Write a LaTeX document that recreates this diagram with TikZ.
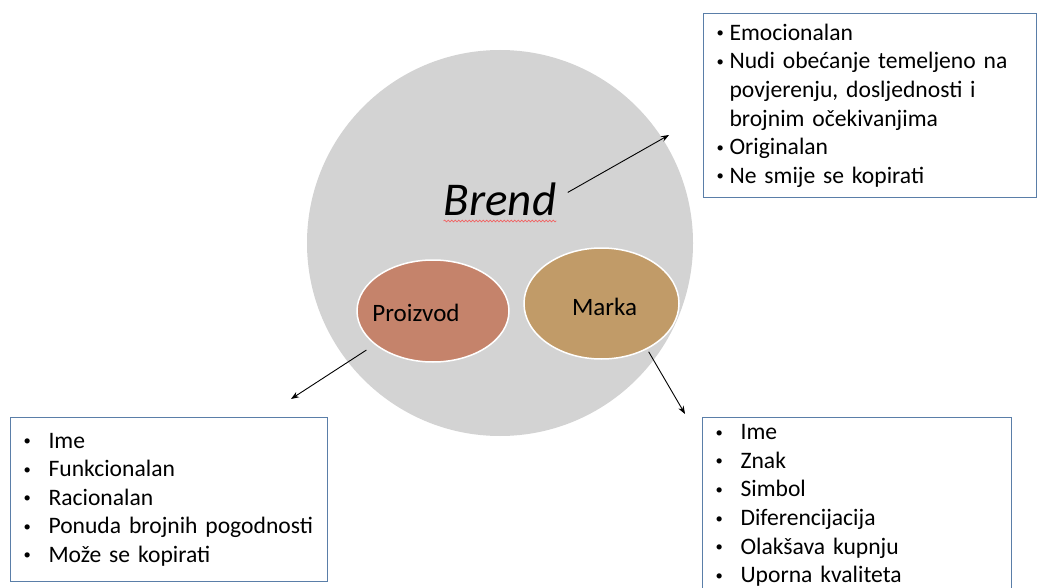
\documentclass[tikz,border=0pt]{standalone}
\usepackage{graphicx}
\usepackage{fontspec}
\setmainfont{Carlito}
\usetikzlibrary{arrows.meta,decorations.pathmorphing,shapes.geometric}
\definecolor{circgray}{HTML}{D3D3D3}
\definecolor{prodcol}{HTML}{C5836B}
\definecolor{markacol}{HTML}{C19B68}
\definecolor{boxblue}{HTML}{5A7EA8}
\definecolor{spellred}{HTML}{F06464}
\newcommand{\bulx}[1]{\makebox[#1][l]{\hspace*{1pt}\raisebox{2.5pt}{\scalebox{0.62}{\textbullet}}}}
\newcommand{\itm}[2]{\mbox{\bulx{#1}#2}}
\newcommand{\cnt}[2]{\mbox{\hspace*{#1}#2}}
\begin{document}
\begin{tikzpicture}[x=1pt,y=-1pt,
  listbox/.style={draw=boxblue, line width=1.1pt, fill=white, anchor=north west,
    inner xsep=12pt, inner ysep=0pt, align=left,
    font=\fontsize{23.6}{28.6}\selectfont},
  blob/.style={ellipse, draw=white, line width=1.5pt, inner sep=0pt,
    font=\fontsize{25}{30}\selectfont},
  arr/.style={line width=0.9pt, -{Stealth[length=8pt,width=6pt]}}]
\useasboundingbox (0,0) rectangle (1041,588);
\clip (0,0) rectangle (1041,588);
\fill[white] (0,0) rectangle (1041,588);
% big circle
\node[circle, fill=circgray, minimum size=386pt, inner sep=0pt] (brendcircle) at (500,243) {};
\node[inner sep=0pt, anchor=base, font=\fontsize{47}{56}\selectfont\itshape] (brend) at (500,215) {Brend};
\draw[spellred, line width=0.7pt, decorate, decoration={snake, amplitude=0.9pt, segment length=3.5pt}]
  ([yshift=-6pt]brend.base west) -- ([yshift=-6pt]brend.base east);
% ellipses
\node[blob, fill=prodcol, minimum width=152pt, minimum height=102pt] (prod) at (433,311) {\makebox[0pt]{\raisebox{-10pt}[0pt][0pt]{Proizvod}\hspace*{34pt}}};
\node[blob, fill=markacol, minimum width=155pt, minimum height=111pt] (marka) at (601.5,303.5) {\makebox[0pt]{\hspace*{6pt}\raisebox{-11.5pt}[0pt][0pt]{Marka}}};
% boxes
\node[listbox, text width=309pt, minimum height=184pt] (brendbox) at (703,13) {%
\itm{14pt}{Emocionalan}\\
\itm{14pt}{Nudi obećanje temeljeno na}\\
\cnt{14pt}{povjerenju, dosljednosti i}\\
\cnt{14pt}{brojnim očekivanjima}\\
\itm{14pt}{Originalan}\\
\itm{14pt}{Ne smije se kopirati}};
\node[listbox, text width=293pt, minimum height=164pt] (prodbox) at (10,417) {%
\itm{26pt}{Ime}\\
\itm{26pt}{Funkcionalan}\\
\itm{26pt}{Racionalan}\\
\itm{26pt}{Ponuda brojnih pogodnosti}\\
\itm{26pt}{Može se kopirati}};
\node[listbox, text width=285pt, minimum height=176pt] (markabox) at (702,417) {%
\itm{26pt}{Ime}\\
\itm{26pt}{Znak}\\
\itm{26pt}{Simbol}\\
\itm{26pt}{Diferencijacija}\\
\itm{26pt}{Olakšava kupnju}\\
\itm{26pt}{Uporna kvaliteta}};
% arrows
\coordinate (brendtip) at (669,135);
\coordinate (prodtip) at (291,399);
\coordinate (markatip) at (685,414);
\draw[arr, shorten <=13pt] (brend.east) -- (brendtip);
\draw[arr, shorten <=10pt] (prod.210) -- (prodtip);
\draw[arr, shorten <=3pt] (marka.-45) -- (markatip);
\end{tikzpicture}
\end{document}
